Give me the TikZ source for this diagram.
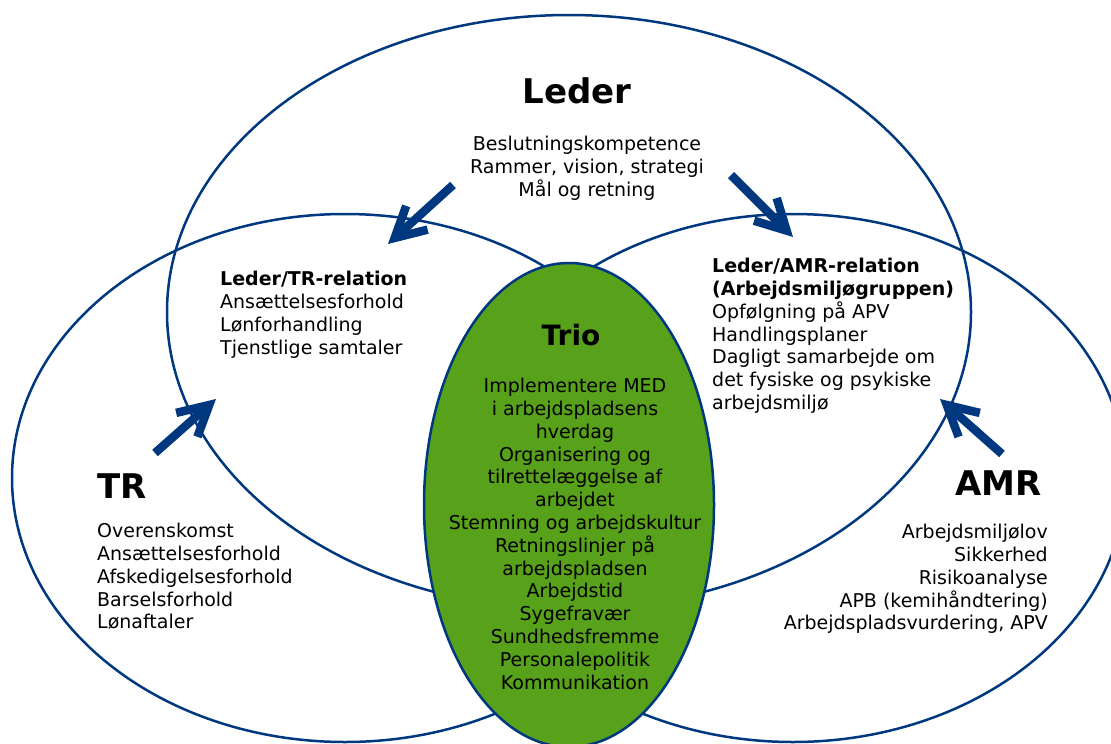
\documentclass[tikz,border=0pt]{standalone}
\usepackage{fontspec}
\setmainfont{DejaVu Sans}
\usetikzlibrary{arrows.meta}
\definecolor{navy}{RGB}{0,56,128}
\definecolor{triogreen}{RGB}{88,161,26}
\begin{document}
\begin{tikzpicture}[x=1pt,y=-1pt,
	ring/.style={draw=navy,line width=2.5pt},
	title/.style={font=\fontsize{34}{40}\selectfont\bfseries,inner sep=0pt},
	body/.style={font=\fontsize{19}{22.8}\selectfont,inner sep=0pt},
	push/.style={draw=navy,line width=8.5pt,-{Straight Barb[length=30pt,width=32pt]}}]
		\useasboundingbox (0,0) rectangle (1111,744);
		\clip (0,0) rectangle (1111,744);
		\draw[ring] (345,478) ellipse [x radius=333,y radius=264];
		\draw[ring] (793,478) ellipse [x radius=333,y radius=264];
		\draw[ring] (569,312) ellipse [x radius=402,y radius=297];
		\draw[ring,fill=triogreen] (569,505) ellipse [x radius=145,y radius=242];
		\node[title,anchor=base] (leder) at (577,103) {Leder};
		\node[body,align=center,anchor=north] (ledertxt) at (587,136) {Beslutningskompetence\\Rammer, vision, strategi\\Mål og retning};
		\node[body,align=left,anchor=north west] (ledtr) at (220,271) {\textbf{Leder/TR-relation}\\Ansættelsesforhold\\Lønforhandling\\Tjenstlige samtaler};
		\node[body,align=left,anchor=north west] (ledamr) at (712,258) {\textbf{Leder/AMR-relation}\\\textbf{(Arbejdsmiljøgruppen)}\\Opfølgning på APV\\Handlingsplaner\\Dagligt samarbejde om\\det fysiske og psykiske\\arbejdsmiljø};
		\node[title,anchor=base west] (tr) at (97,498) {TR};
		\node[body,align=left,anchor=north west] (trtxt) at (97,523) {Overenskomst\\Ansættelsesforhold\\Afskedigelsesforhold\\Barselsforhold\\Lønaftaler};
		\node[title,anchor=base east] (amr) at (1042,495) {AMR};
		\node[body,align=right,anchor=north east] (amrtxt) at (1048,524) {Arbejdsmiljølov\\Sikkerhed\\Risikoanalyse\\APB (kemihåndtering)\\Arbejdspladsvurdering, APV};
		\node[title,font=\fontsize{28}{34}\selectfont\bfseries,anchor=base] (trio) at (571,345) {Trio};
		\node[body,align=center,anchor=north] (triotxt) at (575,378) {Implementere MED\\i arbejdspladsens\\hverdag\\Organisering og\\tilrettelæggelse af\\arbejdet\\Stemning og arbejdskultur\\Retningslinjer på\\arbejdspladsen\\Arbejdstid\\Sygefravær\\Sundhedsfremme\\Personalepolitik\\Kommunikation};
		\coordinate (ledtail) at (453,185);
		\coordinate (ledtrtip) at (388,244);
		\coordinate (ledtail2) at (731,175);
		\coordinate (ledamrtip) at (793,237);
		\coordinate (trtail) at (155,453);
		\coordinate (trtip) at (216,399);
		\coordinate (amrtail) at (1002,454);
		\coordinate (amrtip) at (940,399);
		\draw[push] (ledtail) -- (ledtrtip);
		\draw[push] (ledtail2) -- (ledamrtip);
		\draw[push] (trtail) -- (trtip);
		\draw[push] (amrtail) -- (amrtip);
	\end{tikzpicture}
\end{document}
